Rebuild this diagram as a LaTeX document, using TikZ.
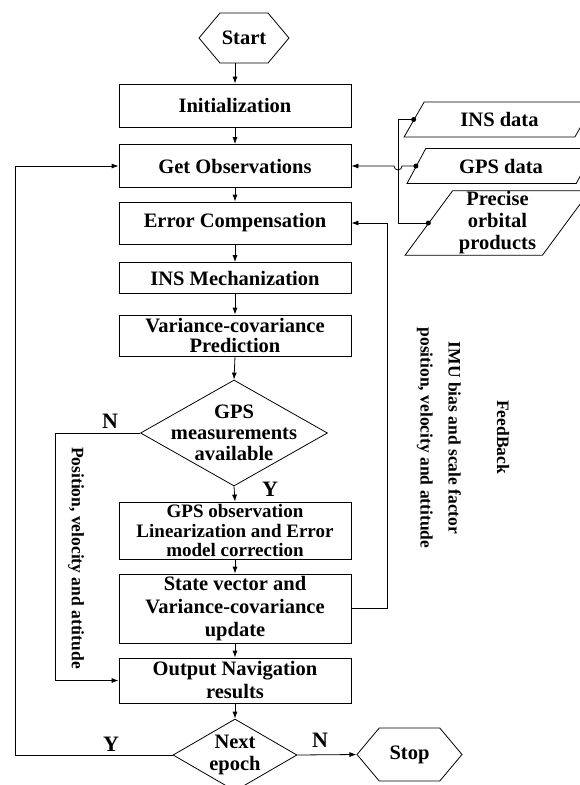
\documentclass[tikz,border=0pt]{standalone}
\usepackage{fontspec}
\setmainfont{Liberation Serif}
\usetikzlibrary{shapes.geometric,shapes.symbols,arrows.meta}
\begin{document}
\begin{tikzpicture}[x=1pt,y=-1pt,line width=0.8pt,>={Latex[length=7pt,width=5pt]},
  box/.style={draw,rectangle,minimum width=232,minimum height=43,align=center,inner sep=1pt,font=\bfseries\fontsize{20.5}{23}\selectfont},
  hexa/.style={draw,signal,signal to=east and west,signal pointer angle=100,minimum width=90,minimum height=50,inner sep=1pt,font=\bfseries\fontsize{20.5}{23}\selectfont},
  decision/.style={draw,diamond,inner sep=0pt},
  dtext/.style={align=center,font=\bfseries\fontsize{20.5}{21}\selectfont},
  datain/.style={draw,trapezium,trapezium left angle=57,trapezium right angle=123,trapezium stretches=true,minimum height=35,align=center,inner sep=1pt,font=\bfseries\fontsize{20.5}{22}\selectfont},
  yn/.style={font=\bfseries\fontsize{22}{22}\selectfont},
  sidetext/.style={rotate=-90,align=center,font=\bfseries\fontsize{17.5}{28}\selectfont}]
\useasboundingbox (0,0) rectangle (580,785);
\node[hexa] (start) at (244,38) {Start};
\node[box] (init) at (235,105.5) {Initialization};
\node[box] (getobs) at (235,166) {Get Observations};
\node[box,minimum height=42] (errcomp) at (235,223) {Error Compensation};
\node[box,minimum height=31] (insmech) at (235,278) {INS Mechanization};
\node[box,minimum height=41,font=\bfseries\fontsize{20.5}{20}\selectfont] (varpred) at (235,335.5) {Variance-covariance\\Prediction};
\node[decision,minimum width=187,minimum height=106,label={[dtext]center:GPS\\measurements\\available}] (gpsq) at (234,433) {};
\node[box,minimum height=57,font=\bfseries\fontsize{19}{19.5}\selectfont] (gpsobs) at (235,530.5) {GPS observation\\Linearization and Error\\model correction};
\node[box,minimum height=69] (state) at (235,608.5) {State vector and\\Variance-covariance\\update};
\node[box,minimum height=45] (output) at (235,680.5) {Output Navigation\\results};
\node[decision,minimum width=124,minimum height=72,label={[dtext,font=\bfseries\fontsize{20.5}{22}\selectfont]center:Next\\epoch}] (next) at (235,755) {};
\node[hexa,minimum width=105,minimum height=53] (stop) at (409.5,754.5) {Stop};
\node[datain,minimum width=191] (ins) at (499.5,119.5) {INS data};
\node[datain,minimum width=188] (gps) at (501,166) {GPS data};
\node[datain,minimum width=185,minimum height=64] (precise) at (497.5,223) {Precise\\orbital\\products};
\node[yn] (nleftlbl) at (110,421) {N};
\node[yn] (ylbl) at (270,489) {Y};
\node[yn] (ybotlbl) at (111,744) {Y};
\node[yn] (nbotlbl) at (320,740) {N};
\node[sidetext] (pvaleft) at (76,558) {Position, velocity and attitude};
\node[sidetext] (imutext) at (439,438) {IMU bias and scale factor\\position, velocity and attitude};
\node[sidetext] (feedback) at (503,437) {FeedBack};
\coordinate (nleft) at (55,433);
\coordinate (yleft) at (15,755);
\coordinate (fbright) at (387,608.5);
\coordinate (bustop) at (398,119.5);
\coordinate (busbot) at (398,223);
\coordinate (hopr) at (402,166);
\draw[->] (init.north |- start.south) -- (init.north);
\draw[->] (init) -- (getobs);
\draw[->] (getobs) -- (errcomp);
\draw[->] (errcomp) -- (insmech);
\draw[->] (insmech) -- (varpred);
\draw[->] (varpred.south) -- (gpsq.north);
\draw[->] (gpsq.south) -- (gpsobs.north);
\draw[->] (gpsobs) -- (state);
\draw[->] (state) -- (output);
\draw[->] (output.south) -- (next.north);
\draw[->] (next.east) -- (stop.west);
\draw[->] (gpsq.west) -- (nleft) |- (output.west);
\draw[->] (next.west) -- (yleft) |- (getobs.west);
\draw[->] (state.east) -- (fbright) |- (errcomp.east);
\draw (ins.left side) -- (bustop) -- (busbot) -- (precise.left side);
\draw[->] (gps.left side) -- (hopr) arc[start angle=0,end angle=180,radius=4] -- (getobs.east);
\fill (ins.left side) circle[radius=2.5pt];
\fill (gps.left side) circle[radius=2.5pt];
\fill (precise.left side) circle[radius=2.5pt];
\end{tikzpicture}
\end{document}
